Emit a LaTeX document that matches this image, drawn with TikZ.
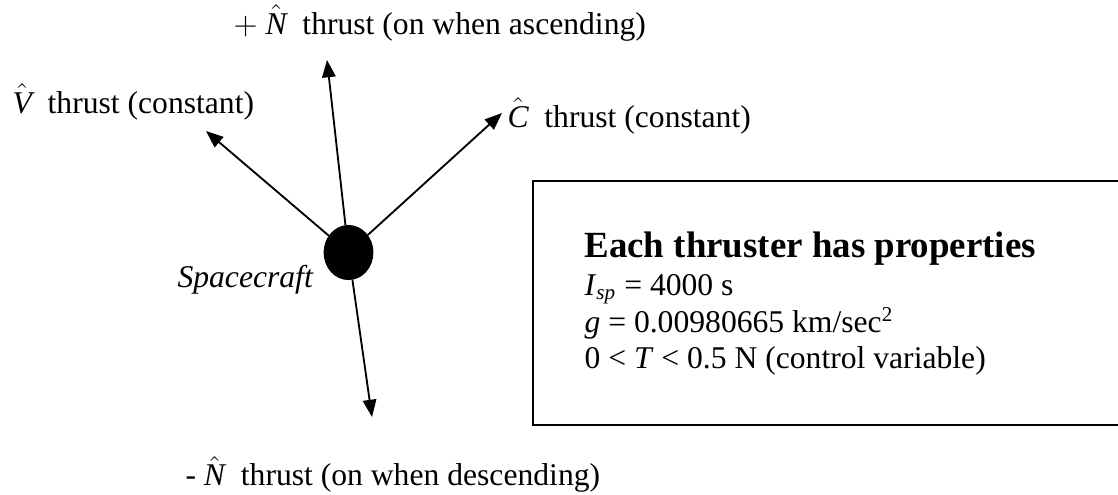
\documentclass[tikz,border=0pt]{standalone}
\usepackage{amsmath}
\usepackage{fontspec}
\setmainfont{Liberation Serif}
\usepackage{tikz}
\usetikzlibrary{arrows.meta,positioning,shapes.geometric}
\definecolor{ink}{HTML}{000000}
% italic text letter with a math hat
\newcommand{\hatvec}[1]{$\hat{\text{\itshape #1}}$}
\newcommand{\itv}[1]{\textit{#1}}
\tikzset{
  craft/.style = {ellipse, fill=ink, draw=ink, inner sep=0pt,
                  minimum width=6.5mm, minimum height=7.2mm},
  thr/.style   = {-{Triangle[length=2.3mm,width=1.8mm]}, line width=0.7pt, ink},
  lbl/.style   = {anchor=base west, inner sep=0pt, font=\fontsize{12}{14}\selectfont},
  hdr/.style   = {anchor=base west, inner sep=0pt, font=\fontsize{14}{16}\selectfont\bfseries},
  panel/.style = {draw=ink, line width=0.75pt},
}

\begin{document}
\begin{tikzpicture}[x=1cm,y=1cm]
\useasboundingbox (0,0) rectangle (14.907,6.587);
% spacecraft and thrust directions
\node[craft] (sc) at (4.647,3.220) {};
\coordinate (tipN) at (4.36,5.787);
\coordinate (tipV) at (2.747,4.84);
\coordinate (tipC) at (6.693,5.08);
\coordinate (tipS) at (4.96,1.027);
\foreach \t in {tipN,tipV,tipC,tipS}
  {\draw[thr] (sc) -- (\t);}
\node[lbl] (lblN) at (3.107,6.133) {$+$ \hatvec{N}\ \ thrust (on when ascending)};
\node[lbl] (lblV) at (0.16,5.08) {\hatvec{V}\ \ thrust (constant)};
\node[lbl] (lblC) at (6.76,4.893) {\hatvec{C}\ \ thrust (constant)};
\node[lbl] (lblS) at (2.467,0.107) {- \hatvec{N}\ \ thrust (on when descending)};
\node[lbl] (lblSc) at (2.36,2.747) {\itshape Spacecraft};
% properties box
\draw[panel] (7.107,0.92) rectangle (15.2,4.173);
\node[hdr] (props) at (7.787,3.16) {Each thruster has properties};
\node[lbl] (isp) at (7.787,2.653) {\itv{I}\textsubscript{\itv{sp}} = 4000 s};
\node[lbl] (grav) at (7.787,2.147) {\itv{g} = 0.00980665 km/sec\textsuperscript{2}};
\node[lbl] (ctrl) at (7.787,1.68) {0 < \itv{T} < 0.5 N (control variable)};
\end{tikzpicture}
\end{document}
